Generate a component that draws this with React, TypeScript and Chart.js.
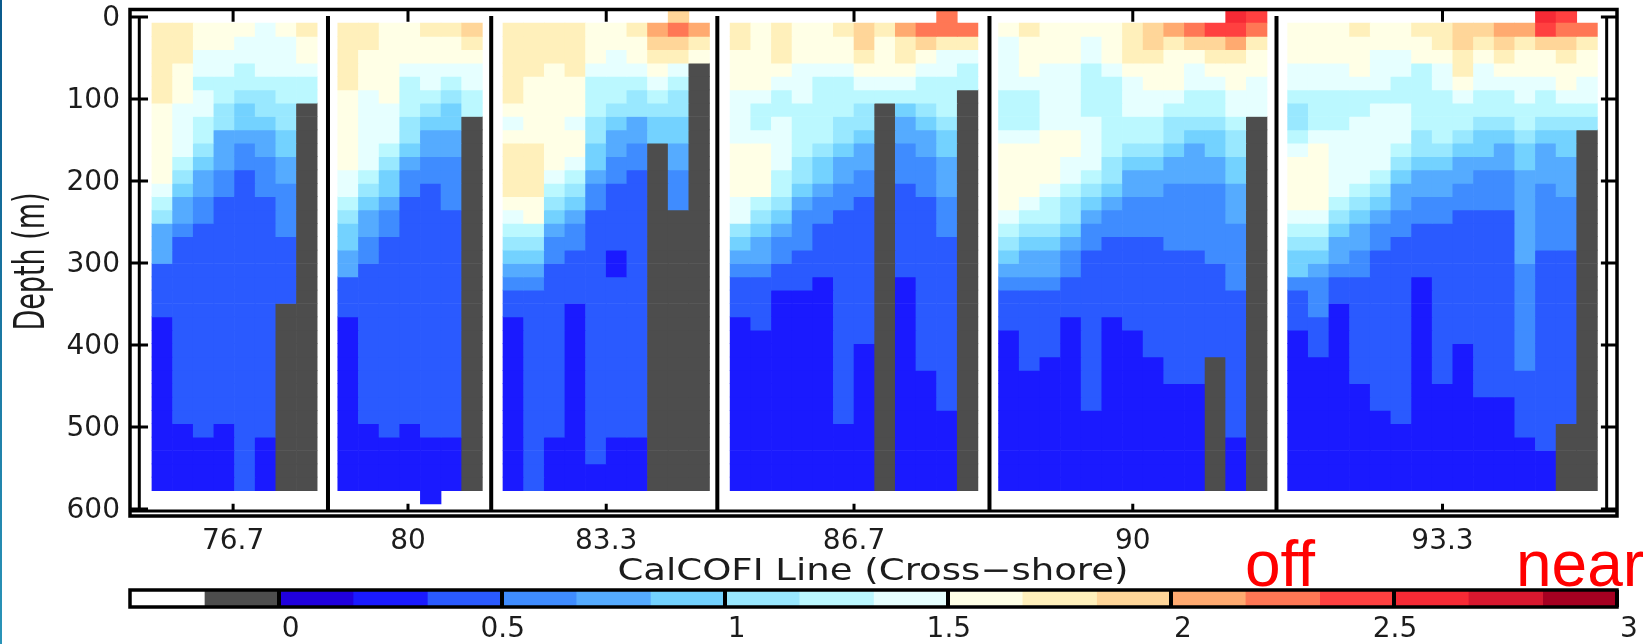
import { useEffect, useRef } from "react";
import Chart from "chart.js/auto";

// Colour bin of every cell, written as runs from the surface down: "k6" = six rows of bin k.
// "^x" = an extra shallow cell above the first row.
const levelColors: Record<string, string> = {
  g: "#4D4D4D", a: "#1A1AFF", b: "#2A5AFF", c: "#3F8CFF", d: "#55ABFF", e: "#73D2FF", f: "#99E8FF",
  h: "#BBF8FF", i: "#E6FFFF", j: "#FFFFE6", k: "#FFF0BB", l: "#FFD699", m: "#FFAA70", n: "#FF7755",
  o: "#FF4040", p: "#F62A35",
};

const line767 = [
  "k6 j6 i1 h1 f1 d3 b4 a13", "k3 j3 i4 h1 f1 e1 d2 c1 b14 a5", "j2 i2 h1 i2 h2 f1 e1 d2 c2 b16 a4",
  "j2 i2 h2 f2 d3 c2 b17 a5", "j1 i2 h2 f1 e2 d1 c2 b24", "i4 h1 f2 e1 d2 c3 b18 a4",
  "j1 i3 h2 f2 e2 d2 c4 b5 g14", "k1 j2 i1 h2 g29",
];
const line80 = [
  "k5 j6 i2 h1 f1 e2 d2 b3 a13", "k2 j3 i6 h1 f1 e1 d2 c2 b12 a5", "j6 i3 h1 f1 e2 d1 c2 b15 a4",
  "j3 i1 h3 f2 e1 d1 c2 b17 a5", "k1 j2 i2 h1 f1 e1 d2 c2 b19 a5", "k1 j2 i1 h1 f1 e2 d2 c4 b17 a4",
  "l1 k1 j1 i2 h2 g28",
];
const line833 = [
  "k6 j1 i1 j1 k4 j1 i1 h1 f1 e1 d1 c1 b2 a13", "k4 j5 k4 j2 h1 f1 e1 d1 c1 b15",
  "k3 j8 i1 h1 f1 e1 d1 c2 b13 a4", "k4 j3 i1 j2 i1 h1 f1 e1 d1 c2 b4 a14", "j3 i1 h3 f2 e2 d1 c2 b19 a2",
  "j2 i2 h2 f1 e1 d2 c2 b5 a2 b12 a4", "k1 j2 i1 h1 f2 d2 c2 b20 a4", "m1 l1 k1 j1 i1 h1 f1 e2 g26",
  "^l n1 l1 k1 i1 h1 f2 e2 d2 c3 g21", "m1 k1 j1 g32",
];
const line867 = [
  "k2 j3 i4 j4 i2 f1 e1 d1 c1 b3 a13", "j5 i1 h2 i1 j4 h1 f1 e1 d2 c1 b4 a12", "k3 j1 i1 h2 i4 h2 f1 e1 d1 c2 b2 a15",
  "j3 i3 h4 f2 e1 d1 c3 b3 a15", "j3 i1 h5 f1 e2 d1 c2 b4 a16", "k1 j2 i1 h3 f2 e1 d2 c2 b16 a5",
  "l2 k1 j1 i1 h1 f2 e1 d2 c2 b11 a11", "k1 j3 i1 h1 g29", "m1 k2 j1 i1 h1 e1 d2 c3 b7 a16",
  "n1 l1 j1 i1 h2 f1 e1 d2 c3 b13 a9", "^n n1 k1 i2 h3 f1 e2 d3 c3 b13 a6", "n1 k1 i1 h2 g30",
];
const line90 = [
  "j1 i4 h3 i1 j5 i1 h1 f1 e1 d1 c1 b3 a12", "k1 j3 i1 h3 i1 j4 i1 h1 f1 e1 d2 c1 b6 a9",
  "j3 i5 j4 i1 h2 f1 e1 d2 c1 b5 a10", "j3 i5 j2 i2 h1 f2 e1 d1 c2 b3 a13", "j1 i2 h4 i4 h1 f1 e1 d1 c2 b12 a6",
  "j3 i1 h6 f2 e1 d1 c2 b6 a13", "k3 j1 i3 h2 f1 e1 d2 c3 b7 a12", "l2 k1 j2 i2 h2 f1 e1 d2 c3 b9 a10",
  "m1 k1 j3 i1 h1 f2 e1 d2 c5 b10 a8", "n1 l1 j1 i2 h2 f1 e1 d3 c5 b10 a8", "o1 l1 k1 j1 i1 h2 f1 e2 d2 c6 b7 g10",
  "^p o1 m1 k1 j2 i2 h1 f2 e2 d3 c5 b11 a4", "^o n1 k1 j2 i3 g28",
];
const line933 = [
  "j3 i2 h1 f2 h1 i1 j4 i1 h1 f1 e2 c1 b3 a12", "j3 i2 h3 i1 j5 i1 h1 f1 e1 d1 c3 b3 a10",
  "j3 i2 h3 i5 h1 f1 e1 d2 c1 b2 a14", "k1 j3 i1 h2 i5 h1 f1 e1 d2 c2 b8 a8", "j2 i3 h1 i5 h1 f1 e1 d1 c2 b12 a6",
  "j2 i2 h2 i3 h1 f1 e1 d2 c2 b14 a5", "k1 j2 h5 f2 e1 d2 c2 b4 a16", "k2 j1 i2 h4 f1 e1 d2 c2 b12 a8",
  "l2 k2 j1 i1 h2 f1 e1 d2 c2 b10 a11", "l1 k1 j1 i2 h2 f1 e2 d1 c3 b14 a7", "m1 l1 k1 j1 i1 h2 f1 e1 d2 c3 b14 a7",
  "m1 k1 j2 i2 h2 f1 e2 d7 c8 b5 a4", "^p o1 l1 j2 i1 h2 f1 e1 d3 c5 b15 a3", "^o n1 l1 k1 j2 i1 h1 f1 e2 d3 c4 b13 g5",
  "n1 k1 j2 i2 h1 f1 g27",
];

const panels = [line767, line80, line833, line867, line90, line933];
const panelNames = ["76.7", "80", "83.3", "86.7", "90", "93.3"];
const panelStarts = [1, 10, 18, 29, 42, 56];
const panelCenters = [4.93, 13.4, 23, 35, 48.5, 63.5];
const panelSeparators = [9.525, 17.43, 28.38, 41.56, 55.46];
const innerAxes = [0.387, 71.45];

// Depth (m) of the cell edges; the first is the edge above the surface row.
const depthEdges = [
  -8.97, 7.32, 23.61, 39.9, 56.19, 72.48, 88.77, 105.06, 121.35, 137.64, 153.93, 170.22, 186.51, 202.8,
  219.09, 235.38, 251.67, 267.96, 284.25, 300.54, 316.83, 333.12, 349.41, 365.7, 381.99, 398.28, 414.57,
  430.86, 447.15, 463.44, 479.73, 496.02, 512.31, 528.6, 544.89, 561.18, 577.47, 593.76,
];
const depthTicks = [0, 100, 200, 300, 400, 500, 600];

const colorbarBreaks = [
  -0.3333, -0.1667, 0, 0.1667, 0.3333, 0.5, 0.6667, 0.8333, 1, 1.1667, 1.3333, 1.5, 1.6667, 1.8333, 2, 2.1667,
  2.3333, 2.5, 2.6667, 2.8333, 3,
];
const colorbarColors = [
  "#FFFFFF", "#4D4D4D", "#2000DD", "#1A1AFF", "#2A5AFF", "#3F8CFF", "#55ABFF", "#73D2FF", "#99E8FF", "#BBF8FF",
  "#E6FFFF", "#FFFFE6", "#FFF0BB", "#FFD699", "#FFAA70", "#FF7755", "#FF4040", "#F62A35", "#D7182F", "#A50021",
];
const colorbarTicks = [0, 0.5, 1, 1.5, 2, 2.5, 3];

const xTitle = "CalCOFI Line (Cross\u2212shore)";
const yTitle = "Depth (m)";
const TICK_FONT = "DejaVu Sans";
const INK = "#1c1c1c";
const X_MIN = -0.063;
const X_MAX = 71.95;

function expandColumn(runs: string) {
  const cells: { row: number; level: string }[] = [];
  let row = 0;
  for (const t of runs.split(" ")) {
    if (t[0] === "^") {
      cells.push({ row: -1, level: t[1] });
    } else {
      const n = parseInt(t.slice(1), 10);
      for (let i = 0; i < n; i++) cells.push({ row: row++, level: t[0] });
    }
  }
  return cells;
}

function buildRowDatasets() {
  const rows = new Map<number, { data: any[]; backgroundColor: string[] }>();
  panels.forEach((columns, p) => {
    columns.forEach((runs, c) => {
      for (const { row, level } of expandColumn(runs)) {
        if (!rows.has(row)) rows.set(row, { data: [], backgroundColor: [] });
        const r = rows.get(row)!;
        r.data.push({ x: panelStarts[p] + c + 0.5, y: [depthEdges[row + 1], depthEdges[row + 2]] });
        r.backgroundColor.push(levelColors[level]);
      }
    });
  });
  return [...rows.values()].map((r) => ({
    type: "bar" as const,
    ...r,
    grouped: false,
    barPercentage: 1,
    categoryPercentage: 1,
    borderWidth: 0,
    order: 2,
  }));
}

function segments(list: number[][], width = 3) {
  const data: any[] = [];
  for (const [x1, y1, x2, y2] of list) {
    data.push({ x: x1, y: y1 }, { x: x2, y: y2 }, { x: x2, y: null });
  }
  return {
    type: "line" as const,
    data,
    borderColor: "#000",
    borderWidth: width,
    pointRadius: 0,
    spanGaps: false,
    order: 1,
    clip: false as any,
  };
}

function frameAxes() {
  const top = -1.2;
  const bottom = 602.4;
  const thin: number[][] = [];
  for (const a of innerAxes) thin.push([a, 0, a, bottom]);
  thin.push([X_MIN, bottom, X_MAX, bottom]);
  for (const d of depthTicks) {
    thin.push([X_MIN, d, 0.81, d]);
    thin.push([71.17, d, X_MAX, d]);
  }
  for (const c of panelCenters) {
    thin.push([c, -9, c, 5.7]);
    thin.push([c, 593.5, c, bottom]);
  }
  return [segments(thin, 3), segments(panelSeparators.map((s) => [s, top, s, bottom]), 4)];
}

const noMargins = (s: any) => {
  s.paddingLeft = 0;
  s.paddingRight = 0;
  s.paddingTop = 0;
  s.paddingBottom = 0;
};

export default function App() {
  const mainRef = useRef<HTMLCanvasElement>(null);
  const barRef = useRef<HTMLCanvasElement>(null);

  useEffect(() => {
    const frame = {
      id: "frame",
      afterDatasetsDraw(chart: any) {
        const { ctx, chartArea: a } = chart;
        ctx.save();
        ctx.strokeStyle = "#000";
        ctx.lineWidth = 3.5;
        ctx.strokeRect(a.left, a.top, a.right - a.left, a.bottom - a.top);
        ctx.restore();
      },
    };
    const annotations = {
      id: "annotations",
      afterDraw(chart: any) {
        const { ctx } = chart;
        ctx.save();
        ctx.fillStyle = INK;
        ctx.font = `30px "${TICK_FONT}"`;
        ctx.textAlign = "center";
        ctx.textBaseline = "alphabetic";
        ctx.translate(873, 580);
        ctx.scale(1.235, 1);
        ctx.fillText(xTitle, 0, 0);
        ctx.restore();

        ctx.save();
        ctx.fillStyle = INK;
        ctx.font = `27px "${TICK_FONT}"`;
        ctx.textAlign = "center";
        ctx.textBaseline = "alphabetic";
        ctx.translate(44, 261.5);
        ctx.rotate(-Math.PI / 2);
        ctx.scale(1, 1.6);
        ctx.fillText(yTitle, 0, 0);
        ctx.restore();

        ctx.save();
        ctx.fillStyle = "#FF0000";
        ctx.font = '64px "Liberation Sans"';
        ctx.textAlign = "left";
        ctx.textBaseline = "alphabetic";
        ctx.fillText("off", 1245, 586);
        ctx.fillText("near", 1516, 586);
        ctx.restore();
      },
    };
    const main = new Chart(mainRef.current!, {
      type: "bar",
      data: { datasets: [...buildRowDatasets(), ...frameAxes()] as any },
      plugins: [frame, annotations],
      options: {
        animation: false,
        responsive: false,
        events: [],
        layout: { padding: { left: 0, right: 30, top: 9.5, bottom: 0 } },
        plugins: { legend: { display: false }, tooltip: { enabled: false } },
        scales: {
          x: {
            type: "linear",
            offset: false,
            min: X_MIN,
            max: X_MAX,
            grid: { display: false, drawTicks: false, offset: false },
            border: { display: false },
            afterBuildTicks: (s: any) => {
              s.ticks = panelCenters.map((value) => ({ value }));
            },
            afterFit: (s: any) => {
              s.height = 128;
              noMargins(s);
            },
            ticks: {
              autoSkip: false,
              maxRotation: 0,
              padding: 9,
              color: INK,
              font: { family: TICK_FONT, size: 28 },
              callback: (v: any) => panelNames[panelCenters.indexOf(v)],
            },
          },
          y: {
            type: "linear",
            reverse: true,
            min: -9.15,
            max: 608.5,
            grid: { display: false, drawTicks: false },
            border: { display: false },
            afterBuildTicks: (s: any) => {
              s.ticks = depthTicks.map((value) => ({ value }));
            },
            afterFit: (s: any) => {
              s.width = 130;
              noMargins(s);
            },
            ticks: {
              padding: 10,
              labelOffset: 1.5,
              color: INK,
              font: { family: TICK_FONT, size: 28 },
              callback: (v: any) => String(v),
            },
          },
        },
      },
    } as any);

    const barLabels = {
      id: "barLabels",
      afterDraw(chart: any) {
        const { ctx } = chart;
        const sx = chart.scales.x;
        ctx.save();
        ctx.fillStyle = INK;
        ctx.font = `28px "${TICK_FONT}"`;
        ctx.textBaseline = "middle";
        for (const t of colorbarTicks) {
          const whole = Number.isInteger(t);
          ctx.textAlign = whole ? "left" : "center";
          ctx.fillText(String(t), sx.getPixelForValue(t) + (whole ? 3 : 1), 50);
        }
        ctx.restore();
      },
    };
    const bar = new Chart(barRef.current!, {
      type: "bar",
      data: {
        labels: ["scale"],
        datasets: colorbarColors.map((c, i) => ({
          data: [[colorbarBreaks[i], colorbarBreaks[i + 1]]],
          backgroundColor: c,
          grouped: false,
          barPercentage: 1,
          categoryPercentage: 1,
          borderWidth: 0,
        })),
      },
      plugins: [frame, barLabels],
      options: {
        indexAxis: "y",
        animation: false,
        responsive: false,
        events: [],
        layout: { padding: { left: 130, right: 30, top: 10, bottom: 0 } },
        plugins: { legend: { display: false }, tooltip: { enabled: false } },
        scales: {
          x: {
            type: "linear",
            min: -0.3333,
            max: 3,
            grid: { display: true, color: "#000", lineWidth: 4, drawTicks: false, z: 1 },
            border: { display: false },
            afterBuildTicks: (s: any) => {
              s.ticks = colorbarTicks.map((value) => ({ value }));
            },
            afterFit: (s: any) => {
              s.height = 37;
              noMargins(s);
            },
            ticks: { display: false },
          },
          y: { display: false },
        },
      },
    } as any);

    return () => {
      main.destroy();
      bar.destroy();
    };
  }, []);

  return (
    <div style={{ position: "absolute", left: 0, top: 0, width: 1647, height: 644, background: "#fff", overflow: "hidden" }}>
      <div
        style={{
          position: "absolute",
          left: 0,
          top: 0,
          width: 2,
          height: 644,
          background: "linear-gradient(#0a5a8c, #2a94b8)",
        }}
      />
      <canvas ref={mainRef} width={1647} height={644} style={{ position: "absolute", left: 0, top: 0 }} />
      <canvas ref={barRef} width={1647} height={64} style={{ position: "absolute", left: 0, top: 580 }} />
    </div>
  );
}
